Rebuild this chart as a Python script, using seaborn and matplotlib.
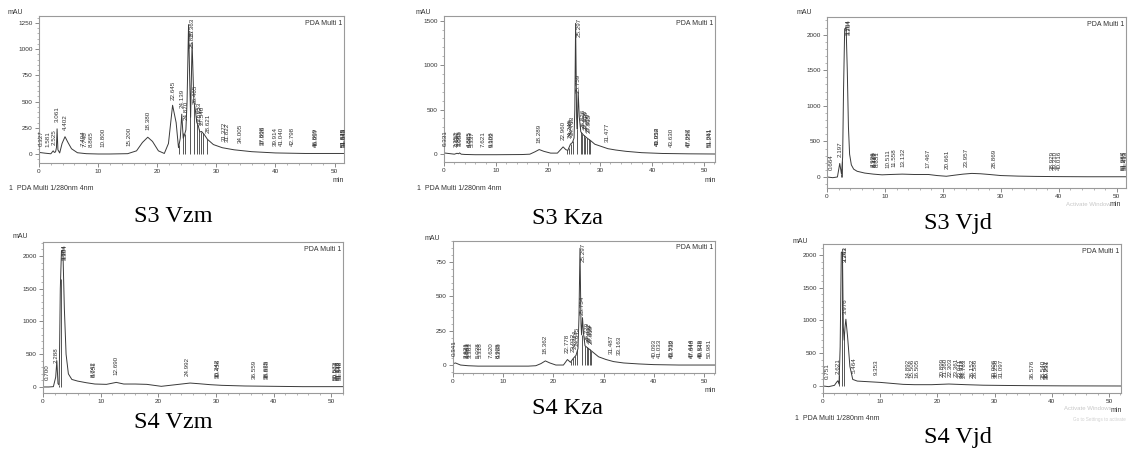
import numpy as np
import pandas as pd
import matplotlib
matplotlib.use("Agg")
import matplotlib.pyplot as plt
from matplotlib.ticker import MultipleLocator
import seaborn as sns

# ---------------- data ----------------
captions = ["S3 Vzm", "S3 Kza", "S3 Vjd", "S4 Vzm", "S4 Kza", "S4 Vjd"]

# chromatogram traces: retention time (min) and signal (mAU)
t_s3vzm = [0, 1.0, 2.0, 2.4, 2.6, 2.8, 2.95, 3.06, 3.2, 3.5, 3.9, 4.4, 4.9, 5.5, 6.5, 8, 10, 12, 15, 16.5,
           17.5, 18.4, 19.2, 20.2, 21.2, 21.9, 22.6, 23.2, 23.6, 23.9, 24.15, 24.4, 24.6, 24.85, 25.05,
           25.3, 25.5, 25.65, 25.9, 26.2, 26.45, 26.7, 26.95, 27.2, 27.5, 27.9, 28.5, 29.5, 31, 33, 36,
           40, 45, 51.6]
v_s3vzm = [15, 8, 2, 30, 15, 20, 60, 240, 40, 10, 100, 165, 110, 50, 12, 3, 0, 0, 3, 30,
           110, 160, 120, 30, 5, 100, 465, 300, 60, 150, 380, 150, 180, 230, 500,
           1235, 700, 350, 1065, 500, 420, 300, 270, 210, 215, 190, 140, 90, 60, 40, 22,
           10, 5, 5]

t_s3kza = [0, 1, 2, 2.5, 2.8, 3.0, 3.3, 4, 6, 10, 15, 16.5, 17.5, 18.3, 19.2, 20.5, 21.8, 22.9, 23.4,
           23.8, 24.3, 24.7, 25.0, 25.15, 25.3, 25.5, 25.62, 25.8, 26.0, 26.3, 26.8, 27.5, 28.2, 29, 30,
           31.5, 33, 35, 38, 42, 47, 52.1]
v_s3kza = [12, 5, -2, 8, 3, 12, -2, -5, -8, -8, -6, -2, 25, 50, 30, 10, 10, 80, 50,
           40, 110, 130, 180, 500, 1470, 400, 280, 700, 420, 250, 215, 180, 150, 110, 90,
           60, 45, 30, 15, 6, 2, 0]

t_s3vjd = [0, 1.0, 1.8, 2.2, 2.5, 2.7, 2.85, 3.05, 3.3, 3.5, 3.7, 3.9, 4.2, 4.6, 5.2, 6.5, 8, 9.5, 11,
           13, 15, 17.5, 19, 20.6, 22, 23.5, 25, 26.5, 28, 30, 33, 36, 40, 45, 51.6]
v_s3vjd = [0, -10, 0, 190, 40, 280, 1200, 2080, 2100, 1500, 700, 320, 170, 110, 80, 55, 40, 30, 35,
           40, 35, 35, 20, 10, 25, 40, 50, 45, 35, 20, 12, 8, 5, 3, 3]

t_s4vzm = [0, 1.0, 1.8, 2.2, 2.4, 2.6, 2.8, 3.0, 3.2, 3.45, 3.7, 4.0, 4.4, 5.0, 6, 7.5, 9, 11, 12.7,
           14, 16, 18, 20.5, 23, 25.5, 27, 29, 31, 35, 40, 45, 52]
v_s4vzm = [0, 0, 5, 150, 400, 50, 30, 1500, 2080, 2090, 1200, 500, 200, 115, 90, 65, 45, 40, 70,
           45, 45, 40, 10, 35, 60, 50, 35, 25, 15, 10, 5, 5]

t_s4kza = [0, 0.5, 1.5, 3, 5, 10, 15, 16.5, 17.5, 18.4, 19.3, 20.5, 22, 22.8, 23.4, 24.0, 24.5, 24.9,
           25.1, 25.3, 25.5, 25.62, 25.8, 26.0, 26.3, 27, 28, 29, 30.5, 32, 34, 37, 40, 45, 52.2]
v_s4kza = [10, 15, 0, -5, -8, -8, -8, -5, 10, 30, 15, 0, 0, 40, 20, 50, 70, 120,
           350, 850, 300, 220, 345, 230, 140, 120, 90, 60, 40, 25, 15, 8, 3, 0, 0]

t_s4vjd = [0, 1.0, 2.0, 2.4, 2.6, 2.8, 3.0, 3.2, 3.4, 3.55, 3.7, 3.85, 4.0, 4.3, 4.7, 5.2, 6, 8, 10,
           12, 14, 16, 19, 22, 25, 28, 32, 36, 42, 52.1]
v_s4vjd = [0, -10, 10, 60, 80, 30, 600, 2040, 2050, 900, 700, 900, 1020, 750, 300, 100, 75, 65, 55,
           40, 25, 20, 20, 30, 20, 12, 8, 5, 2, 0]

# peak labels (retention times printed on the chromatograms)
pk_s3vzm = ["0.327", "1.581", "2.525", "3.061", "4.402", "7.494", "7.748", "8.865", "10.800", "15.200",
            "18.380", "22.645", "24.139", "24.870", "25.363", "25.857", "26.465", "27.053", "27.312",
            "27.540", "28.621", "31.372", "31.822", "34.005", "37.808", "37.936", "39.914", "41.040",
            "42.798", "46.809", "46.957", "51.443", "51.525", "51.645"]
pk_s3kza = ["0.331", "2.257", "2.597", "2.885", "3.058", "4.885", "5.063", "5.337", "7.621", "9.106",
            "9.302", "18.289", "22.960", "24.245", "24.445", "24.713", "25.297", "25.759", "26.826",
            "27.056", "27.318", "27.629", "27.915", "31.477", "40.952", "41.034", "43.630", "47.067",
            "47.226", "51.061", "51.241"]
pk_s3vjd = ["0.664", "2.197", "3.104", "3.264", "7.926", "8.138", "8.412", "8.651", "10.511", "11.558",
            "13.132", "17.467", "20.661", "23.957", "28.869", "38.929", "39.310", "40.016", "51.087",
            "51.255", "51.413"]
pk_s4vzm = ["0.700", "2.288", "3.104", "3.304", "8.742", "8.951", "12.690", "24.992", "30.242",
            "30.456", "36.559", "38.625", "38.858", "50.573", "50.904", "51.136", "51.342", "51.548"]
pk_s4kza = ["0.341", "2.621", "2.843", "3.063", "3.363", "5.038", "5.318", "7.620", "8.925", "9.208",
            "18.362", "22.778", "23.932", "24.324", "24.645", "25.297", "25.754", "26.779", "27.032",
            "27.319", "27.619", "31.487", "33.163", "40.093", "41.033", "43.536", "43.732", "47.444",
            "47.648", "49.329", "49.546", "50.981"]
pk_s4vjd = ["0.751", "2.621", "3.243", "3.363", "3.976", "5.464", "9.353", "14.892", "15.506",
            "16.505", "20.899", "21.360", "22.303", "23.361", "23.941", "24.312", "24.763", "26.152",
            "26.586", "30.006", "30.256", "31.097", "36.576", "38.540", "38.962", "39.231"]

# integration drop lines (min)
dl_s3vzm = [23.7, 24.35, 24.65, 25.55, 26.3, 26.8, 27.1, 27.35, 27.7, 28.5]
dl_s3kza = [23.6, 24.0, 24.4, 24.8, 25.62, 26.3, 26.6, 26.9, 27.2, 27.5, 27.8, 28.1]
dl_s3vjd = [2.5, 2.65]
dl_s4vzm = [2.8, 3.05]
dl_s4kza = [23.6, 24.0, 24.4, 24.8, 25.62, 26.3, 26.6, 26.9, 27.2, 27.5]
dl_s4vjd = [2.85, 3.3, 3.62]

y_major = [250, 500, 500, 500, 250, 500]
y_minor = [50, 100, 100, 100, 50, 100]

# ---------------- layout ----------------
W, H = 1130, 453
sns.set_style("white")
plt.rcParams["font.family"] = ["Liberation Sans", "DejaVu Sans"]

fig = plt.figure(figsize=(W / 100, H / 100), dpi=100)


def px_rect(l, t, r, b):
    return [l / W, 1 - b / H, (r - l) / W, (b - t) / H]


def ftext(x, y, s, **kw):
    fig.text(x / W, 1 - y / H, s, **kw)


panels = [
    (t_s3vzm, v_s3vzm, pk_s3vzm, dl_s3vzm, (39, 16, 344, 163), (0, 51.6), (-86, 1317)),
    (t_s3kza, v_s3kza, pk_s3kza, dl_s3kza, (444, 16, 715, 162), (0, 52.1), (-90, 1553)),
    (t_s3vjd, v_s3vjd, pk_s3vjd, dl_s3vjd, (827, 17, 1126, 188), (0, 51.6), (-155, 2248)),
    (t_s4vzm, v_s4vzm, pk_s4vzm, dl_s4vzm, (43, 242, 343, 393), (0, 52.0), (-92, 2214)),
    (t_s4kza, v_s4kza, pk_s4kza, dl_s4kza, (453, 241, 715, 373), (0, 52.2), (-58, 903)),
    (t_s4vjd, v_s4vjd, pk_s4vjd, dl_s4vjd, (823, 244, 1121, 393), (0, 52.1), (-107, 2168)),
]

line_c = "#3a3a3a"
spine_c = "#9a9a9a"
txt_c = "#333333"

for i, (tt, vv, pk, dl, rect, xl, yl) in enumerate(panels):
    ax = fig.add_axes(px_rect(*rect))
    df = pd.DataFrame({"t": tt, "v": vv})
    sns.lineplot(data=df, x="t", y="v", ax=ax, color=line_c, linewidth=0.7,
                 estimator=None, sort=False)
    ax.set_xlim(*xl)
    ax.set_ylim(*yl)
    ax.set_xlabel("")
    ax.set_ylabel("")
    # drop lines
    for d in dl:
        ax.vlines(d, 0, np.interp(d, tt, vv), color=line_c, linewidth=0.6)
    # peak labels
    ymax = yl[1]
    for s in pk:
        p = float(s)
        yv = np.interp(p, tt, vv)
        if yv > 0.8 * ymax:
            ax.annotate(s, xy=(p, ymax * 0.985), xytext=(2.5, 0), textcoords="offset points",
                        rotation=90, ha="center", va="top", fontsize=4.5, color=txt_c)
        else:
            ax.annotate(s, xy=(p, max(yv, 0)), xytext=(0, 5), textcoords="offset points",
                        rotation=90, ha="center", va="bottom", fontsize=4.5, color=txt_c)
    ax.text(0.995, 0.975, "PDA Multi 1", transform=ax.transAxes, ha="right", va="top",
            fontsize=5, color=txt_c)
    for sp in ax.spines.values():
        sp.set_color(spine_c)
        sp.set_linewidth(0.8)
        sp.set_visible(True)
    ax.xaxis.set_major_locator(MultipleLocator(10))
    ax.xaxis.set_minor_locator(MultipleLocator(2))
    ax.yaxis.set_major_locator(MultipleLocator(y_major[i]))
    ax.yaxis.set_minor_locator(MultipleLocator(y_minor[i]))
    ax.tick_params(axis="both", which="major", direction="out", length=3, width=0.6,
                   color="#777777", labelsize=4.6, labelcolor=txt_c, pad=1.5,
                   bottom=True, left=True)
    ax.tick_params(axis="both", which="minor", direction="out", length=1.5, width=0.5,
                   color="#999999", bottom=True, left=True)
    ax.set_yticks([y for y in ax.get_yticks() if 0 <= y <= yl[1]])
    ax.set_xticks([x for x in range(0, 60, 10) if x <= xl[1]])

# axis unit labels
for (x, y) in [(15, 13), (423, 13), (804, 12), (20, 237), (432, 238), (800, 241)]:
    ftext(x, y, "mAU", ha="center", va="center", fontsize=5, color=txt_c)
for (x, y) in [(338, 180), (710, 180), (1115, 204), (710, 390), (1116, 411)]:
    ftext(x, y, "min", ha="center", va="center", fontsize=5, color=txt_c)
for (x, y) in [(9, 189), (417, 188), (795, 419)]:
    ftext(x, y, "1  PDA Multi 1/280nm 4nm", ha="left", va="center", fontsize=5, color=txt_c)

# screen watermark remnants
ftext(1066, 205, "Activate Windows", ha="left", va="center", fontsize=4.3, color="#c8c8c8")
ftext(1064, 409, "Activate Windows", ha="left", va="center", fontsize=4.3, color="#c8c8c8")
ftext(1126, 420, "Go to Settings to activate", ha="right", va="center", fontsize=3.3,
      color="#d0d0d0")

# captions
cap_pos = [(173, 217), (568, 218), (958, 223), (173, 423), (568, 408), (958, 438)]
for s, (x, y) in zip(captions, cap_pos):
    ftext(x, y, s, ha="center", va="center", fontsize=17.5, color="black",
          family=["Liberation Serif", "DejaVu Serif"])

fig.savefig("out.png", dpi=100, facecolor="white")
